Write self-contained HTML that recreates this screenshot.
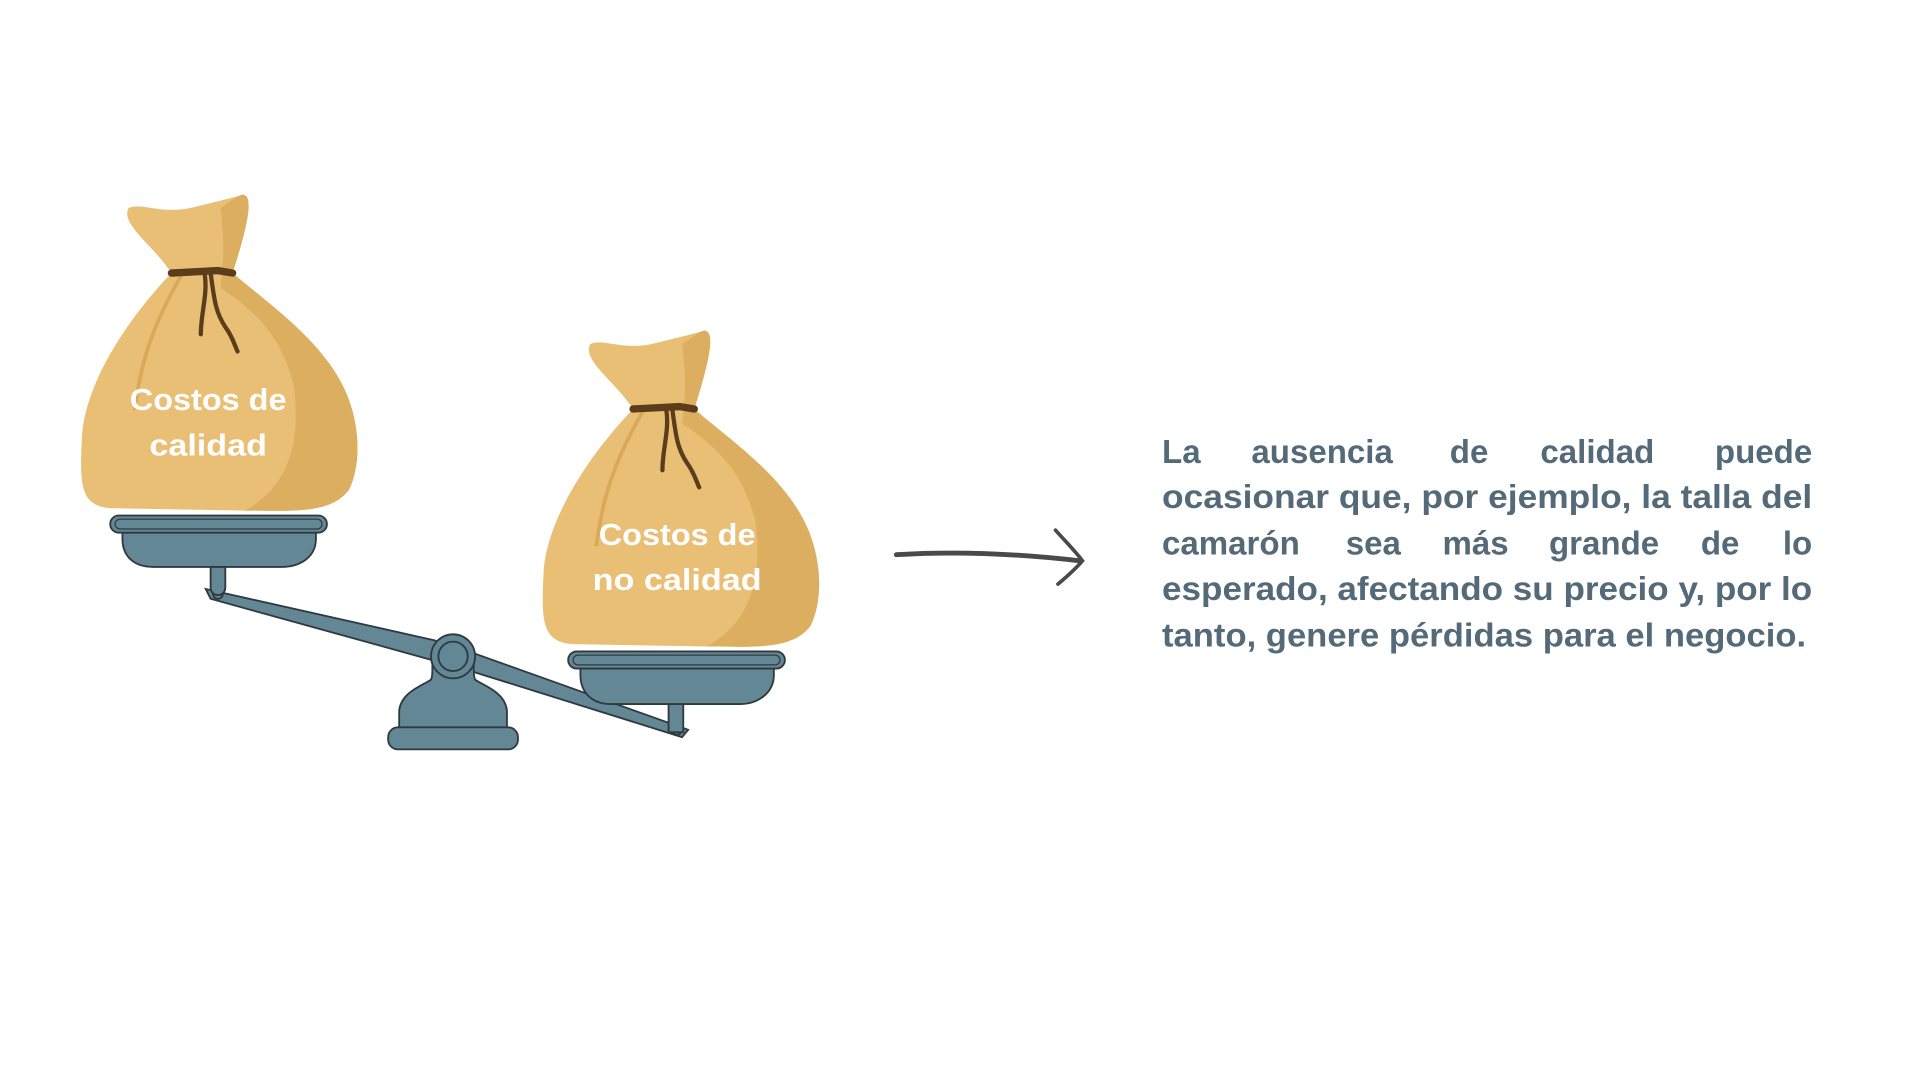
<!DOCTYPE html>
<html><head><meta charset="utf-8"><style>html,body{margin:0;padding:0;background:#fff;width:1920px;height:1080px;overflow:hidden}</style></head>
<body>
<svg width="1920" height="1080" viewBox="0 0 1568 882" preserveAspectRatio="xMinYMin meet" xmlns="http://www.w3.org/2000/svg">
<defs>
<g id="bag">
  <path d="M-65,-165 C-55,-170 -40,-160 -15,-165 C5,-170 15,-172 28,-176 C38,-176 32,-150 20,-112 C45,-90 90,-60 110,-20 C125,10 125,45 115,65 C100,85 70,82 30,82 L-80,80 C-105,78 -105,60 -103,20 C-100,-20 -70,-70 -30,-112 C-45,-135 -72,-152 -65,-165 Z" fill="#e9bf75"/>
  <path d="M10,-165 C18,-170 25,-176 28,-176 C38,-176 32,-150 20,-112 C45,-90 90,-60 110,-20 C125,10 125,45 115,65 C100,85 70,82 30,82 C70,60 75,20 70,-20 C60,-60 40,-80 10,-100 C14,-130 12,-150 10,-165 Z" fill="#dcae5f"/>
  <path d="M-22,-110 C-45,-70 -55,-40 -60,0" stroke="#d9a958" stroke-width="3" fill="none"/>
  <path d="M-30,-112 L8,-114 L20,-112" stroke="#5c3d1b" stroke-width="6" fill="none" stroke-linecap="round"/>
  <path d="M-3,-112 C0,-95 -6,-80 -6,-62 M2,-112 C5,-90 6,-80 14,-68 C20,-60 22,-52 24,-48" stroke="#5c3d1b" stroke-width="3.5" fill="none" stroke-linecap="round"/>
</g>
</defs>
<path d="M168,481 L355,523 L380,531 L562,596 L557,602 L378,546 L172,489 Z" fill="#648795" stroke="#2e3a40" stroke-width="1.5"/>
<circle cx="178" cy="485" r="4" fill="#648795" stroke="#2e3a40" stroke-width="1.5"/>
<circle cx="553" cy="596" r="4" fill="#648795" stroke="#2e3a40" stroke-width="1.5"/>
<rect x="172" y="450" width="12" height="36" rx="6" fill="#648795" stroke="#2e3a40" stroke-width="1.5"/>
<path d="M100,434 L258,434 L258,440 C258,455 245,463 230,463 L125,463 C110,463 100,455 100,440 Z" fill="#648795" stroke="#2e3a40" stroke-width="1.5"/>
<rect x="90" y="421" width="177" height="14" rx="7" fill="#648795" stroke="#2e3a40" stroke-width="1.5"/>
<rect x="94" y="424" width="169" height="8" rx="4" fill="none" stroke="#2e3a40" stroke-width="1"/>
<rect x="546" y="570" width="12" height="28" fill="#648795" stroke="#2e3a40" stroke-width="1.5"/>
<path d="M474,545 L632,545 L632,551 C632,566 619,575 604,575 L499,575 C484,575 474,566 474,551 Z" fill="#648795" stroke="#2e3a40" stroke-width="1.5"/>
<rect x="464" y="532" width="177" height="14" rx="7" fill="#648795" stroke="#2e3a40" stroke-width="1.5"/>
<rect x="468" y="535" width="169" height="8" rx="4" fill="none" stroke="#2e3a40" stroke-width="1"/>
<path d="M358,525 C350,535 355,550 352,555 C345,560 328,565 326,580 L326,595 L414,595 L414,580 C412,565 395,560 388,555 C385,550 390,535 382,525 Z" fill="#648795" stroke="#2e3a40" stroke-width="1.5"/>
<rect x="317" y="594" width="106" height="18" rx="8" fill="#648795" stroke="#2e3a40" stroke-width="1.5"/>
<circle cx="370" cy="536" r="18" fill="#648795" stroke="#2e3a40" stroke-width="1.5"/>
<circle cx="370" cy="536" r="12" fill="#648795" stroke="#2e3a40" stroke-width="1.5"/>
<use href="#bag" transform="translate(170,335)"/>
<use href="#bag" transform="translate(547,446)"/>
<g font-family="Liberation Sans, sans-serif" font-weight="bold" fill="#fff" font-size="25" text-anchor="middle">
<text x="170" y="335" textLength="128" lengthAdjust="spacingAndGlyphs">Costos de</text>
<text x="170" y="372" textLength="96" lengthAdjust="spacingAndGlyphs">calidad</text>
<text x="553" y="445" textLength="128" lengthAdjust="spacingAndGlyphs">Costos de</text>
<text x="553" y="482" textLength="138" lengthAdjust="spacingAndGlyphs">no calidad</text>
</g>
<path d="M732,453 C780,450 830,452 882,458" stroke="#4a4a4a" stroke-width="4" fill="none" stroke-linecap="round"/>
<path d="M862,433 C870,442 878,450 884,458 C878,465 870,472 864,477" stroke="#4a4a4a" stroke-width="3" fill="none" stroke-linecap="round"/>
<g font-family="Liberation Sans, sans-serif" font-weight="bold" fill="#556a78" font-size="27">
<text x="949" y="378">La</text>
<text x="1022" y="378">ausencia</text>
<text x="1184" y="378">de</text>
<text x="1258" y="378">calidad</text>
<text x="1480" y="378" text-anchor="end">puede</text>
<text x="949" y="415" textLength="531" lengthAdjust="spacingAndGlyphs">ocasionar que, por ejemplo, la talla del</text>
<text x="949" y="453">camarón</text>
<text x="1099" y="453">sea</text>
<text x="1178" y="453">más</text>
<text x="1265" y="453">grande</text>
<text x="1389" y="453">de</text>
<text x="1480" y="453" text-anchor="end">lo</text>
<text x="949" y="490" textLength="531" lengthAdjust="spacingAndGlyphs">esperado, afectando su precio y, por lo</text>
<text x="949" y="528" textLength="526" lengthAdjust="spacingAndGlyphs">tanto, genere pérdidas para el negocio.</text>
</g>
</svg>
</body></html>
